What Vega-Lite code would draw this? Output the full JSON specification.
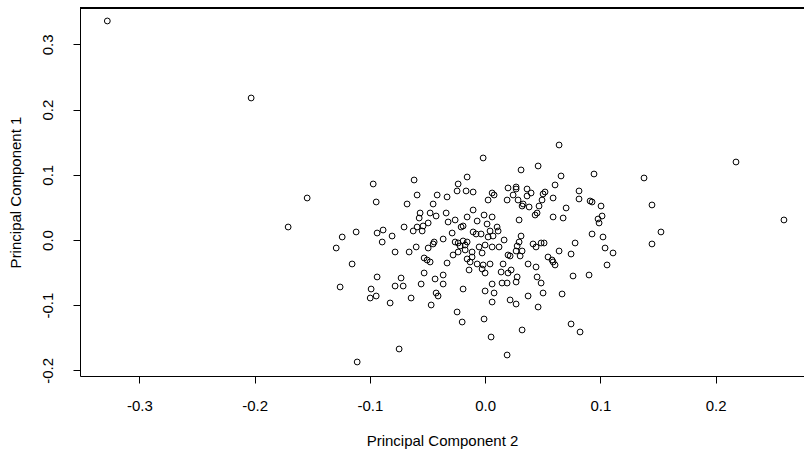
{
  "$schema": "https://vega.github.io/schema/vega-lite/v6.json",
  "width": 724,
  "height": 368,
  "autosize": {"type": "none"},
  "padding": {"left": 80, "top": 8, "right": 0, "bottom": 79},
  "background": "white",
  "config": {
    "view": {"stroke": null},
    "font": "Liberation Sans",
    "axis": {
      "grid": false,
      "domainColor": "black",
      "tickColor": "black",
      "labelColor": "black",
      "titleColor": "black",
      "labelFont": "Liberation Sans",
      "titleFont": "Liberation Sans",
      "labelFontSize": 15,
      "titleFontSize": 15,
      "titleFontWeight": "normal",
      "tickSize": 7
    }
  },
  "data": {
    "values": [
      {"pc2": -0.3278, "pc1": 0.3359}, {"pc2": -0.2030, "pc1": 0.2178}, {"pc2": -0.1544, "pc1": 0.0644},
      {"pc2": -0.1709, "pc1": 0.0199}, {"pc2": -0.1292, "pc1": -0.0123}, {"pc2": -0.0971, "pc1": 0.0859},
      {"pc2": -0.0616, "pc1": 0.0920}, {"pc2": -0.0945, "pc1": 0.0583}, {"pc2": -0.0590, "pc1": 0.0690},
      {"pc2": -0.0416, "pc1": 0.0690}, {"pc2": -0.0677, "pc1": 0.0552}, {"pc2": -0.0451, "pc1": 0.0552},
      {"pc2": -0.0017, "pc1": 0.1258}, {"pc2": 0.0312, "pc1": 0.1074}, {"pc2": 0.0460, "pc1": 0.1135},
      {"pc2": -0.0156, "pc1": 0.0966}, {"pc2": -0.0234, "pc1": 0.0859}, {"pc2": -0.0243, "pc1": 0.0752},
      {"pc2": -0.0165, "pc1": 0.0752}, {"pc2": -0.0104, "pc1": 0.0736}, {"pc2": -0.0330, "pc1": 0.0660},
      {"pc2": 0.0061, "pc1": 0.0721}, {"pc2": 0.0078, "pc1": 0.0690}, {"pc2": 0.0026, "pc1": 0.0613},
      {"pc2": 0.0191, "pc1": 0.0613}, {"pc2": 0.0199, "pc1": 0.0798}, {"pc2": 0.0269, "pc1": 0.0813},
      {"pc2": 0.0269, "pc1": 0.0782}, {"pc2": 0.0243, "pc1": 0.0690}, {"pc2": 0.0364, "pc1": 0.0782},
      {"pc2": 0.0399, "pc1": 0.0721}, {"pc2": 0.0364, "pc1": 0.0675}, {"pc2": 0.0520, "pc1": 0.0736},
      {"pc2": 0.0503, "pc1": 0.0706}, {"pc2": 0.0286, "pc1": 0.0613}, {"pc2": 0.0330, "pc1": 0.0552},
      {"pc2": 0.0321, "pc1": 0.0521}, {"pc2": 0.0494, "pc1": 0.0613}, {"pc2": 0.0468, "pc1": 0.0521},
      {"pc2": 0.0382, "pc1": 0.0506}, {"pc2": -0.0104, "pc1": 0.0460}, {"pc2": 0.0642, "pc1": 0.1457},
      {"pc2": 0.0659, "pc1": 0.0982}, {"pc2": 0.0945, "pc1": 0.1012}, {"pc2": 0.1379, "pc1": 0.0951},
      {"pc2": 0.0607, "pc1": 0.0844}, {"pc2": 0.0815, "pc1": 0.0752}, {"pc2": 0.0590, "pc1": 0.0644},
      {"pc2": 0.0815, "pc1": 0.0629}, {"pc2": 0.0911, "pc1": 0.0598}, {"pc2": 0.0928, "pc1": 0.0583},
      {"pc2": 0.1006, "pc1": 0.0521}, {"pc2": 0.0703, "pc1": 0.0491}, {"pc2": 0.1448, "pc1": 0.0537},
      {"pc2": 0.2177, "pc1": 0.1196}, {"pc2": 0.2593, "pc1": 0.0307}, {"pc2": 0.1526, "pc1": 0.0123},
      {"pc2": 0.1448, "pc1": -0.0061}, {"pc2": -0.0564, "pc1": 0.0414}, {"pc2": -0.0477, "pc1": 0.0414},
      {"pc2": -0.0425, "pc1": 0.0368}, {"pc2": -0.0572, "pc1": 0.0337}, {"pc2": -0.1240, "pc1": 0.0046},
      {"pc2": -0.1119, "pc1": 0.0123}, {"pc2": -0.0885, "pc1": 0.0153}, {"pc2": -0.0937, "pc1": 0.0107},
      {"pc2": -0.0807, "pc1": 0.0061}, {"pc2": -0.0893, "pc1": -0.0031}, {"pc2": -0.0703, "pc1": 0.0199},
      {"pc2": -0.0624, "pc1": 0.0138}, {"pc2": -0.0590, "pc1": 0.0199}, {"pc2": -0.0538, "pc1": 0.0215},
      {"pc2": -0.0494, "pc1": 0.0261}, {"pc2": -0.0546, "pc1": 0.0138}, {"pc2": -0.0781, "pc1": -0.0184},
      {"pc2": -0.0659, "pc1": -0.0184}, {"pc2": -0.0598, "pc1": -0.0107}, {"pc2": -0.0494, "pc1": -0.0123},
      {"pc2": -0.0451, "pc1": -0.0061}, {"pc2": -0.0442, "pc1": -0.0031}, {"pc2": -0.1154, "pc1": -0.0368},
      {"pc2": -0.0529, "pc1": -0.0276}, {"pc2": -0.0477, "pc1": -0.0337}, {"pc2": -0.0503, "pc1": -0.0307},
      {"pc2": -0.0529, "pc1": -0.0506}, {"pc2": -0.0937, "pc1": -0.0567}, {"pc2": -0.0729, "pc1": -0.0583},
      {"pc2": -0.0781, "pc1": -0.0706}, {"pc2": -0.0711, "pc1": -0.0706}, {"pc2": -0.0555, "pc1": -0.0675},
      {"pc2": -0.0434, "pc1": -0.0598}, {"pc2": -0.1258, "pc1": -0.0721}, {"pc2": -0.0989, "pc1": -0.0752},
      {"pc2": -0.0997, "pc1": -0.0890}, {"pc2": -0.0945, "pc1": -0.0859}, {"pc2": -0.0824, "pc1": -0.0966},
      {"pc2": -0.0642, "pc1": -0.0890}, {"pc2": -0.0468, "pc1": -0.0997}, {"pc2": -0.0425, "pc1": -0.0813},
      {"pc2": -0.0408, "pc1": -0.0859}, {"pc2": -0.0746, "pc1": -0.1672}, {"pc2": -0.1110, "pc1": -0.1871},
      {"pc2": -0.0191, "pc1": -0.0752}, {"pc2": 0.0000, "pc1": -0.0782}, {"pc2": 0.0078, "pc1": -0.0813},
      {"pc2": 0.0061, "pc1": -0.0951}, {"pc2": 0.0217, "pc1": -0.0920}, {"pc2": 0.0269, "pc1": -0.0982},
      {"pc2": 0.0373, "pc1": -0.0859}, {"pc2": 0.0503, "pc1": -0.0813}, {"pc2": 0.0460, "pc1": -0.1028},
      {"pc2": -0.0243, "pc1": -0.1104}, {"pc2": -0.0199, "pc1": -0.1258}, {"pc2": -0.0009, "pc1": -0.1212},
      {"pc2": 0.0321, "pc1": -0.1380}, {"pc2": 0.0052, "pc1": -0.1488}, {"pc2": 0.0191, "pc1": -0.1764},
      {"pc2": 0.0668, "pc1": -0.0828}, {"pc2": 0.0746, "pc1": -0.1288}, {"pc2": 0.0824, "pc1": -0.1411},
      {"pc2": 0.0590, "pc1": 0.0353}, {"pc2": 0.0677, "pc1": 0.0337}, {"pc2": 0.1015, "pc1": 0.0368},
      {"pc2": 0.0980, "pc1": 0.0322}, {"pc2": 0.0989, "pc1": 0.0261}, {"pc2": 0.0928, "pc1": 0.0092},
      {"pc2": 0.1023, "pc1": 0.0046}, {"pc2": 0.0781, "pc1": -0.0046}, {"pc2": 0.0642, "pc1": -0.0169},
      {"pc2": 0.0746, "pc1": -0.0215}, {"pc2": 0.1041, "pc1": -0.0123}, {"pc2": 0.1110, "pc1": -0.0199},
      {"pc2": 0.0581, "pc1": -0.0307}, {"pc2": 0.0590, "pc1": -0.0337}, {"pc2": 0.0607, "pc1": -0.0383},
      {"pc2": 0.1058, "pc1": -0.0383}, {"pc2": 0.0763, "pc1": -0.0552}, {"pc2": 0.0902, "pc1": -0.0537},
      {"pc2": -0.0338, "pc1": 0.0414}, {"pc2": -0.0260, "pc1": 0.0307}, {"pc2": -0.0321, "pc1": 0.0276},
      {"pc2": -0.0156, "pc1": 0.0353}, {"pc2": -0.0069, "pc1": 0.0291}, {"pc2": -0.0009, "pc1": 0.0383},
      {"pc2": 0.0061, "pc1": 0.0353}, {"pc2": 0.0017, "pc1": 0.0245}, {"pc2": -0.0208, "pc1": 0.0199},
      {"pc2": -0.0191, "pc1": 0.0215}, {"pc2": 0.0295, "pc1": 0.0307}, {"pc2": 0.0451, "pc1": 0.0414},
      {"pc2": 0.0434, "pc1": 0.0383}, {"pc2": -0.0104, "pc1": 0.0123}, {"pc2": -0.0078, "pc1": 0.0092},
      {"pc2": -0.0035, "pc1": 0.0092}, {"pc2": 0.0043, "pc1": 0.0138}, {"pc2": 0.0104, "pc1": 0.0199},
      {"pc2": 0.0113, "pc1": 0.0138}, {"pc2": 0.0026, "pc1": 0.0046}, {"pc2": 0.0069, "pc1": 0.0061},
      {"pc2": -0.0364, "pc1": 0.0015}, {"pc2": -0.0286, "pc1": 0.0107}, {"pc2": -0.0260, "pc1": -0.0031},
      {"pc2": -0.0234, "pc1": -0.0046}, {"pc2": -0.0191, "pc1": -0.0015}, {"pc2": -0.0156, "pc1": -0.0031},
      {"pc2": -0.0217, "pc1": -0.0092}, {"pc2": -0.0173, "pc1": -0.0077}, {"pc2": -0.0173, "pc1": -0.0153},
      {"pc2": -0.0234, "pc1": -0.0184}, {"pc2": -0.0278, "pc1": -0.0230}, {"pc2": -0.0330, "pc1": -0.0353},
      {"pc2": -0.0113, "pc1": -0.0184}, {"pc2": -0.0052, "pc1": -0.0107}, {"pc2": 0.0000, "pc1": -0.0077},
      {"pc2": 0.0061, "pc1": -0.0107}, {"pc2": 0.0121, "pc1": -0.0107}, {"pc2": 0.0165, "pc1": 0.0000},
      {"pc2": 0.0312, "pc1": 0.0061}, {"pc2": 0.0295, "pc1": -0.0031}, {"pc2": 0.0278, "pc1": -0.0092},
      {"pc2": 0.0269, "pc1": -0.0169}, {"pc2": 0.0321, "pc1": -0.0169}, {"pc2": 0.0304, "pc1": -0.0245},
      {"pc2": 0.0199, "pc1": -0.0230}, {"pc2": 0.0217, "pc1": -0.0245}, {"pc2": -0.0026, "pc1": -0.0199},
      {"pc2": -0.0113, "pc1": -0.0261}, {"pc2": -0.0156, "pc1": -0.0291}, {"pc2": -0.0130, "pc1": -0.0337},
      {"pc2": -0.0069, "pc1": -0.0368}, {"pc2": -0.0017, "pc1": -0.0383}, {"pc2": 0.0043, "pc1": -0.0368},
      {"pc2": -0.0026, "pc1": -0.0445}, {"pc2": -0.0139, "pc1": -0.0460}, {"pc2": 0.0000, "pc1": -0.0506},
      {"pc2": 0.0156, "pc1": -0.0368}, {"pc2": 0.0226, "pc1": -0.0460}, {"pc2": 0.0139, "pc1": -0.0491},
      {"pc2": 0.0199, "pc1": -0.0506}, {"pc2": 0.0373, "pc1": -0.0368}, {"pc2": 0.0442, "pc1": -0.0414},
      {"pc2": 0.0416, "pc1": -0.0061}, {"pc2": 0.0442, "pc1": -0.0107}, {"pc2": 0.0486, "pc1": -0.0046},
      {"pc2": 0.0512, "pc1": -0.0046}, {"pc2": 0.0546, "pc1": -0.0261}, {"pc2": 0.0451, "pc1": -0.0567},
      {"pc2": 0.0278, "pc1": -0.0567}, {"pc2": 0.0269, "pc1": -0.0644}, {"pc2": 0.0191, "pc1": -0.0660},
      {"pc2": 0.0061, "pc1": -0.0675}, {"pc2": 0.0147, "pc1": -0.0660}, {"pc2": -0.0364, "pc1": -0.0537},
      {"pc2": -0.0364, "pc1": -0.0675}, {"pc2": 0.0486, "pc1": -0.0660}
    ]
  },
  "layer": [
    {
      "mark": {"type": "point", "shape": "circle", "filled": false, "color": "black", "size": 34, "strokeWidth": 1, "opacity": 1},
      "encoding": {
        "x": {
          "field": "pc2",
          "type": "quantitative",
          "title": "Principal Component 2",
          "scale": {"domain": [-0.3515, 0.2767], "nice": false, "zero": false},
          "axis": {
            "values": [-0.3, -0.2, -0.1, 0, 0.1, 0.2],
            "labelExpr": "datum.value < 0 ? '-' + format(-datum.value, '.1f') : format(datum.value, '.1f')",
            "labelPadding": 15,
            "titlePadding": 20
          }
        },
        "y": {
          "field": "pc1",
          "type": "quantitative",
          "title": "Principal Component 1",
          "scale": {"domain": [-0.2086, 0.3558], "nice": false, "zero": false},
          "axis": {
            "values": [-0.2, -0.1, 0, 0.1, 0.2, 0.3],
            "labelExpr": "datum.value < 0 ? '-' + format(-datum.value, '.1f') : format(datum.value, '.1f')",
            "labelAngle": -90,
            "labelAlign": "center",
            "labelBaseline": "bottom",
            "labelPadding": 18,
            "titlePadding": 17
          }
        }
      }
    },
    {
      "mark": {"type": "rule", "color": "black", "strokeWidth": 1},
      "encoding": {"y": {"datum": 0.3558}}
    }
  ]
}
